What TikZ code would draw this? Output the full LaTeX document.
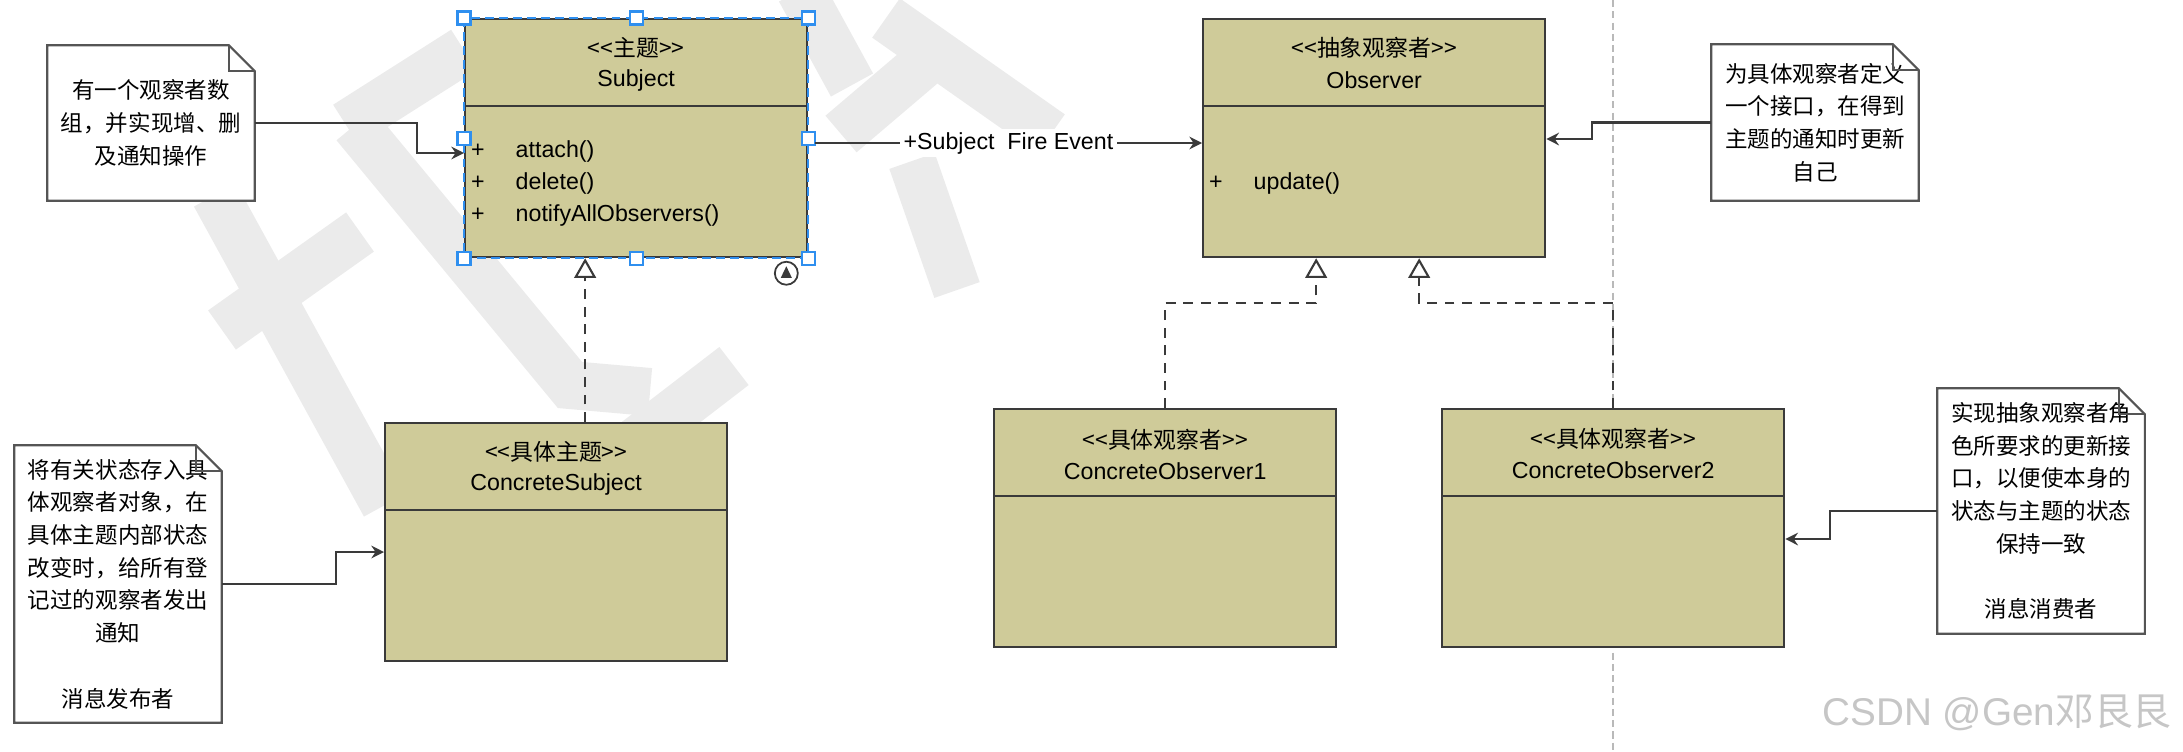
\documentclass[tikz,border=0pt]{standalone}
\usepackage{fontspec}
\setmainfont{Liberation Sans}
\newfontfamily\cjk{Noto Sans CJK SC}
\usetikzlibrary{arrows.meta,calc}
\definecolor{umlfill}{HTML}{CFCB99}
\definecolor{boxline}{HTML}{3A3A3A}
\definecolor{noteline}{HTML}{555555}
\definecolor{selblue}{HTML}{2F8FEF}
\definecolor{wmgray}{HTML}{EBEBEB}
\tikzset{
  x=0.01cm, y=-0.01cm,
  umlbox/.style={draw=boxline, fill=umlfill, line width=0.6pt, minimum width=3.42cm,
    minimum height=2.38cm, inner sep=0pt, anchor=north west},
  divider/.style={draw=boxline, line width=0.6pt},
  stereo/.style={inner sep=0pt, font=\cjk\fontsize{6.5}{8}\selectfont},
  cname/.style={inner sep=0pt, font=\fontsize{6.6}{8}\selectfont},
  meth/.style={inner sep=0pt, font=\fontsize{6.6}{8}\selectfont},
  notebox/.style={minimum width=2.06cm, inner sep=0pt, fill=white, align=center,
    font=\cjk\fontsize{6.4}{9.3}\selectfont},
  noteoutline/.style={draw=noteline, line width=0.6pt, line join=miter},
  conn/.style={draw=boxline, line width=0.6pt, -{Stealth[length=3.6pt,width=3.6pt,inset=1.2pt]}},
  real/.style={draw=boxline, line width=0.6pt, dash pattern=on 2.8pt off 2.2pt,
    -{Triangle[open,length=5.6pt,width=6.2pt,line width=0.6pt]}},
  lbl/.style={fill=white, inner sep=1pt, font=\fontsize{6.6}{8}\selectfont},
  handle/.style={fill=white, draw=selblue, line width=0.6pt},
  wm/.style={draw=wmgray, line width=0.48cm, line cap=butt, line join=miter},
}
\begin{document}
\begin{tikzpicture}
\useasboundingbox (0,0) rectangle (2183,751);
% faint background watermark strokes
\draw[wm] (215,195) -- (385,505);
\draw[wm] (222,330) -- (360,232);
\draw[wm] (346,125) -- (464,50);
\draw[wm] (355,125) -- (570,385) -- (650,392);
\draw[wm] (800,-10) -- (852,85);
\draw[wm] (841,134) -- (935,54);
\draw[wm] (886,18) -- (1051,134);
\draw[wm] (912,161) -- (957,290);
\draw[wm] (600,469) -- (734,366);
% page separator
\draw[gray!55, line width=0.45pt, dash pattern=on 2pt off 1.2pt] (1613,0) -- (1613,751);

% classes
\node[umlbox] (subj) at (464,18) {};
\node[umlbox] (obs) at (1202,18) {};
\node[umlbox] (cs) at (384,422) {};
\node[umlbox] (co1) at (993,408) {};
\node[umlbox] (co2) at (1441,408) {};
\foreach \b in {subj,obs,cs,co1,co2}
  \draw[divider] ($(\b.north west)+(0,88)$) -- ($(\b.north east)+(0,88)$);

\node[stereo] (subjst) at ($(subj.north)+(0,30)$) {<<主题>>};
\node[cname] (subjnm) at ($(subj.north)+(0,62)$) {Subject};
\node[meth] (sp1) at ($(subj.north west)+(14,133)$) {+};
\node[meth, anchor=west] (sm1) at ($(subj.north west)+(51,133)$) {attach()};
\node[meth] (sp2) at ($(subj.north west)+(14,165)$) {+};
\node[meth, anchor=west] (sm2) at ($(subj.north west)+(51,165)$) {delete()};
\node[meth] (sp3) at ($(subj.north west)+(14,197)$) {+};
\node[meth, anchor=west] (sm3) at ($(subj.north west)+(51,197)$) {notifyAllObservers()};

\node[stereo] (obsst) at ($(obs.north)+(0,30)$) {<<抽象观察者>>};
\node[cname] (obsnm) at ($(obs.north)+(0,62)$) {Observer};
\node[meth] (op1) at ($(obs.north west)+(14,165)$) {+};
\node[meth, anchor=west] (om1) at ($(obs.north west)+(51,165)$) {update()};

\node[stereo] (csst) at ($(cs.north)+(0,30)$) {<<具体主题>>};
\node[cname] (csnm) at ($(cs.north)+(0,62)$) {ConcreteSubject};
\node[stereo] (co1st) at ($(co1.north)+(0,32)$) {<<具体观察者>>};
\node[cname] (co1nm) at ($(co1.north)+(0,63)$) {ConcreteObserver1};
\node[stereo] (co2st) at ($(co2.north)+(0,31)$) {<<具体观察者>>};
\node[cname] (co2nm) at ($(co2.north)+(0,62)$) {ConcreteObserver2};

% selection of Subject
\draw[selblue, line width=0.5pt, dash pattern=on 2.5pt off 1.5pt] (subj.north west) rectangle (subj.south east);
\foreach \a in {north west,north,north east,west,east,south west,south,south east}
  \filldraw[handle] ($(subj.\a)+(-6.5,-6.5)$) rectangle ++(13,13);
\coordinate (ic) at ($(subj.south east)+(-22,15)$);
\draw[fill=white, draw=boxline, line width=0.5pt] (ic) circle (0.115cm);
\fill[boxline] ($(ic)+(0,-7)$) -- ($(ic)+(-5.5,4.5)$) -- ($(ic)+(5.5,4.5)$) -- cycle;

% notes
\node[notebox, minimum height=1.54cm] (n1) at (151,123)
  {有一个观察者数\\组，并实现增、删\\及通知操作};
\node[notebox, minimum height=1.55cm] (n2) at (1815,122.5)
  {为具体观察者定义\\一个接口，在得到\\主题的通知时更新\\自己};
\node[notebox, minimum height=2.76cm] (n3) at (118,584)
  {将有关状态存入具\\体观察者对象，在\\具体主题内部状态\\改变时，给所有登\\记过的观察者发出\\通知\\[9.3pt]消息发布者};
\node[notebox, minimum height=2.44cm] (n4) at (2041,511)
  {实现抽象观察者角\\色所要求的更新接\\口，以便使本身的\\状态与主题的状态\\保持一致\\[9.3pt]消息消费者};
\foreach \n in {n1,n2,n3,n4} {
  \draw[noteline, line width=0.6pt] (\n.south west) -- (\n.north west) -- ($(\n.north east)+(-26,0)$)
    -- ($(\n.north east)+(0,26)$) -- (\n.south east) -- cycle;
  \draw[noteline, line width=0.6pt] ($(\n.north east)+(-26,0)$) |- ($(\n.north east)+(0,26)$);
}

% note connectors
\draw[conn] (n1.east) -- ++(162,0) |- ($(subj.north west)+(0,135)$);
\draw[conn] (n2.west) -- ++(-119,0) |- ($(obs.north east)+(0,121)$);
\draw[conn] (n3.east) -- ++(114,0) |- ($(cs.north west)+(0,130)$);
\draw[conn] (n4.west) -- ++(-107,0) |- ($(co2.north east)+(0,131)$);

% association
\draw[conn] ($(subj.north east)+(6.5,125)$) -- node[lbl] (assoc) {+Subject\ \ Fire Event} ($(obs.north west)+(0,125)$);

% realizations
\draw[real] ($(cs.north)+(29,0)$) -- ($(subj.south)+(-51,0)$);
\draw[real] (co1.north) -- ++(0,-105) -| ($(obs.south)+(-58,0)$);
\draw[real] (co2.north) -- ++(0,-105) -| ($(obs.south)+(45,0)$);

% credit
\node[inner sep=0pt, text=gray!45, font=\fontsize{11}{13}\selectfont] (credit) at (1997,713)
  {CSDN @Gen{\cjk 邓艮艮}};
\end{tikzpicture}
\end{document}
